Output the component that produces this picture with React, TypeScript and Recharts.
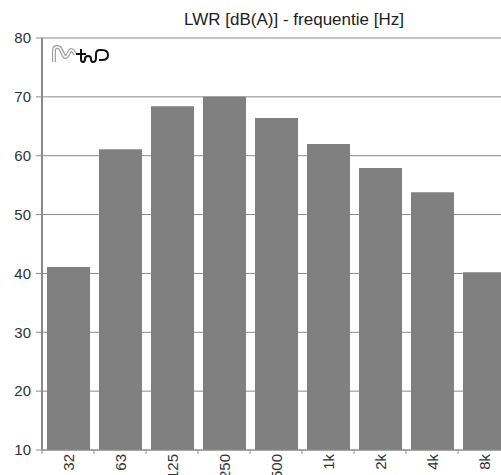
import React from 'react';
import { BarChart, Bar, XAxis, YAxis, CartesianGrid } from 'recharts';

const FREQUENCIES = ['32', '63', '125', '250', '500', '1k', '2k', '4k', '8k'];
const LWR = [41.1, 61.1, 68.4, 70.0, 66.4, 62.0, 57.9, 53.8, 40.2];
const Y_TICKS = [10, 20, 30, 40, 50, 60, 70, 80];

const data = FREQUENCIES.map((name, i) => ({ name, value: LWR[i] }));

const CHART_W = 510;
const CHART_H = 475;
const PLOT_LEFT = 42;
const BAND = (CHART_W - PLOT_LEFT) / FREQUENCIES.length;

const FONT = 'Liberation Sans, Arial, sans-serif';
const TEXT = '#333333';
const LINE = '#8a8a8a';

// rotated category label plus a small tick at the band boundary
const FreqTick = (props: any) => {
  const { x, y, payload } = props;
  return (
    <g>
      <line x1={x - BAND / 2} y1={y - 8} x2={x - BAND / 2} y2={y - 4} stroke={LINE} />
      <text
        x={0}
        y={0}
        transform={`translate(${x + 6}, ${y - 4}) rotate(-90)`}
        textAnchor="end"
        fill={TEXT}
        fontSize={15}
        fontFamily={FONT}
      >
        {payload.value}
      </text>
    </g>
  );
};

const Logo = () => (
  <svg width={70} height={30} style={{ position: 'absolute', left: 50, top: 44 }}>
    {/* outlined grey M */}
    <path
      d="M4 18 V6 Q4 3 7 3 Q10 3 11 6 L14 12 Q15 14 17 12 L20 7 Q21 5 23 7 L25 10"
      fill="none"
      stroke="#a0a0a0"
      strokeWidth={4}
      strokeLinejoin="round"
    />
    <path
      d="M4 18 V6 Q4 3 7 3 Q10 3 11 6 L14 12 Q15 14 17 12 L20 7 Q21 5 23 7 L25 10"
      fill="none"
      stroke="#fff"
      strokeWidth={1.6}
      strokeLinejoin="round"
    />
    {/* black &P */}
    <path
      d="M26 10 H36 M31 5 V15 Q31 18 33 18 Q35 18 35 15 Q35 12 38 12 Q41 12 41 15 Q41 18 43 18 Q46 18 46 14 V10 Q46 6 50 6 H52 Q58 6 58 11 Q58 16 52 16 H49"
      fill="none"
      stroke="#111"
      strokeWidth={2}
      strokeLinejoin="round"
    />
  </svg>
);

export default function App() {
  return (
    <div
      style={{
        position: 'fixed',
        left: 0,
        top: 0,
        width: 501,
        height: 475,
        overflow: 'hidden',
        background: '#fff',
      }}
    >
      <div
        style={{
          position: 'absolute',
          left: 0,
          top: 10,
          width: 588,
          textAlign: 'center',
          fontFamily: FONT,
          fontSize: 17,
          color: '#222',
        }}
      >
        LWR [dB(A)] - frequentie [Hz]
      </div>
      <BarChart
        width={CHART_W}
        height={CHART_H}
        data={data}
        margin={{ top: 38, right: 0, bottom: 0, left: 0 }}
      >
        <CartesianGrid vertical={false} stroke={LINE} strokeWidth={1} />
        <XAxis
          dataKey="name"
          interval={0}
          height={25}
          axisLine={{ stroke: LINE }}
          tickLine={false}
          tick={<FreqTick />}
        />
        <YAxis
          width={PLOT_LEFT}
          domain={[10, 80]}
          ticks={Y_TICKS}
          interval={0}
          axisLine={{ stroke: LINE, strokeWidth: 2 }}
          tickLine={{ stroke: LINE }}
          tickSize={6}
          tickMargin={5}
          tick={{ fill: TEXT, fontSize: 15, fontFamily: FONT }}
        />
        <Bar dataKey="value" fill="#808080" barSize={43} isAnimationActive={false} />
      </BarChart>
      <Logo />
    </div>
  );
}
